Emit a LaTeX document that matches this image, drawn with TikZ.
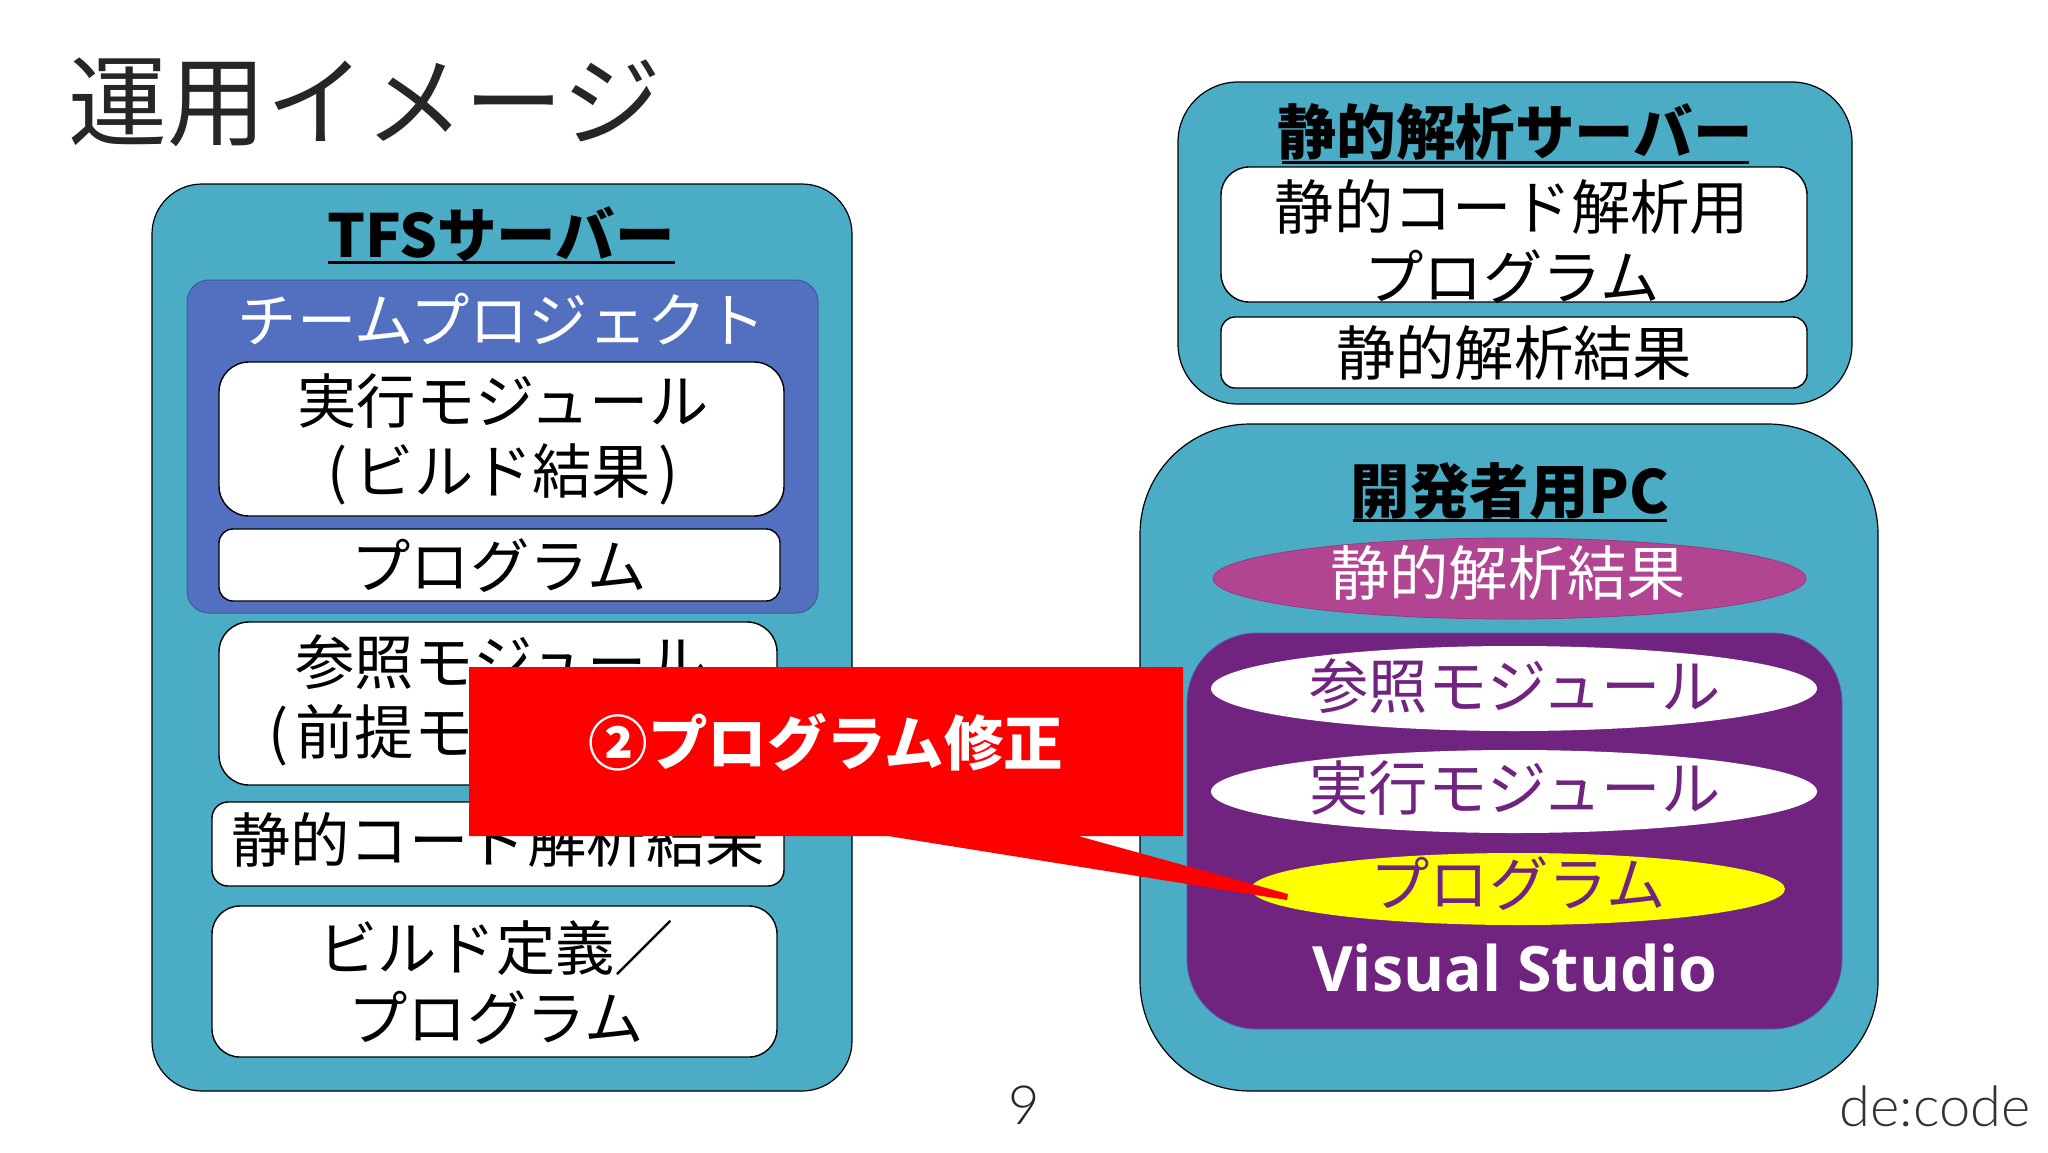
\documentclass[tikz,border=0pt]{standalone}
\usepackage{fontspec}
\usetikzlibrary{shapes.geometric}
\setmainfont{Noto Sans CJK JP}
\newfontfamily\latinthin{Lato Light}
\newfontfamily\latinbold{Open Sans}
\definecolor{srv}{HTML}{4BACC6}
\definecolor{team}{HTML}{5270BF}
\definecolor{mag}{HTML}{B24592}
\definecolor{pur}{HTML}{70237F}
\definecolor{yel}{HTML}{FFFF00}
\tikzset{
  x=1pt,y=-1pt,
  srvbox/.style={draw=black,line width=1.2pt,fill=srv},
  whitebox/.style={draw=black,line width=1.4pt,fill=white},
  lab/.style={inner sep=0pt,align=center,font=\fontsize{59.3}{70}\selectfont},
  head/.style={lab,font=\fontsize{59.5}{70}\selectfont\bfseries},
  uline/.style={line width=3pt,black},
}
\newcommand{\rbox}[7]{\path[#6,rounded corners=#5] (#1,#2) rectangle (#3,#4) node[midway,inner sep=0pt] (#7) {};}
\newcommand{\ovalshape}[6]{\node[ellipse,inner sep=0pt,#5,minimum width=#3,minimum height=#4] (#6) at (#1,#2) {};}
\newcommand{\lp}{(\kern7pt}
\newcommand{\rp}{\kern7pt)}
\begin{document}
\begin{tikzpicture}
\useasboundingbox (0,0) rectangle (2048,1152);
\fill[white] (0,0) rectangle (2048,1152);
\node[lab,font=\fontsize{99}{110}\selectfont,text=black!85] (title) at (365,102) {運用イメージ};
% TFS server
\rbox{152}{184}{852}{1091}{50}{srvbox}{tfs}
\node[head] (tfst) at (501,234) {TFSサーバー};
\draw[uline] (328,262) coordinate (tfsa) -- (675,262) coordinate (tfsb);
\rbox{187}{280}{818}{613}{22}{draw=team!80!black,line width=1pt,fill=team}{teamp}
\node[lab,text=white] (teamt) at (502,319) {チームプロジェクト};
\rbox{219}{362}{784}{516}{30}{whitebox}{b1}
\node[lab] (b1t) at (503,439) {実行モジュール\\\lp ビルド結果\rp};
\rbox{219}{529}{780}{601}{14}{whitebox}{b2}
\node[lab] (b2t) at (499,566) {プログラム};
\rbox{219}{622}{777}{785}{30}{whitebox}{b3}
\node[lab] (b3t) at (501,700) {参照モジュール\\\lp 前提モジュール\rp};
\rbox{212}{802}{784}{886}{16}{whitebox}{b4}
\node[lab] (b4t) at (498,840) {静的コード解析結果};
\rbox{212}{906}{777}{1057}{28}{whitebox}{b5}
\node[lab] (b5t) at (496,982) {ビルド定義／\\プログラム};
% analysis server
\rbox{1178}{82}{1852}{404}{60}{srvbox}{ana}
\node[head] (anat) at (1515,132) {静的解析サーバー};
\draw[uline] (1282,162) coordinate (anaa) -- (1749,162) coordinate (anab);
\rbox{1221}{167}{1807}{302}{28}{whitebox}{c1}
\node[lab] (c1t) at (1512,242) {静的コード解析用\\プログラム};
\rbox{1221}{317}{1807}{388}{14}{whitebox}{c2}
\node[lab] (c2t) at (1514,353) {静的解析結果};
% dev pc
\rbox{1140}{424}{1878}{1091}{110}{srvbox}{pc}
\node[head] (pct) at (1510,491) {開発者用PC};
\draw[uline] (1353,520) coordinate (pca) -- (1667,520) coordinate (pcb);
\ovalshape{1509.5}{578.5}{593}{81}{fill=mag,draw=mag!85!black,line width=.8pt}{e0}
\node[lab,text=white] (e0t) at (1508,573) {静的解析結果};
\rbox{1187}{633}{1842}{1029}{70}{fill=pur,draw=team!70!pur,line width=.8pt}{vs}
\ovalshape{1514}{688.5}{606}{85}{fill=white}{e1}
\node[lab,text=pur] (e1t) at (1515,686) {参照モジュール};
\ovalshape{1514}{791.5}{606}{83}{fill=white}{e2}
\node[lab,text=pur] (e2t) at (1515,788) {実行モジュール};
\ovalshape{1518}{889}{534}{72}{fill=yel}{e3}
\node[lab,text=pur] (e3t) at (1518,884) {プログラム};
\node[lab,text=white,font=\fontsize{62.6}{70}\selectfont\latinbold\bfseries] (vst) at (1515,968) {Visual Studio};
% callout
\coordinate (tipa) at (1288,894);
\coordinate (tipb) at (1287,900);
\fill[red] (469,667) -- (1183,667) -- (1183,836) -- (1078,836) -- (tipa) -- (tipb) -- (888,836) -- (469,836) -- cycle;
\node[head,text=white] (callt) at (826,742) {②プログラム修正};
% footer
\node[lab,font=\fontsize{54}{60}\selectfont\latinthin,text=black!85] (pg) at (1024,1105) {9};
\node[lab,font=\fontsize{56}{60}\selectfont\latinthin,text=black!80] (logo) at (1935,1106) {de:code};
\end{tikzpicture}
\end{document}
